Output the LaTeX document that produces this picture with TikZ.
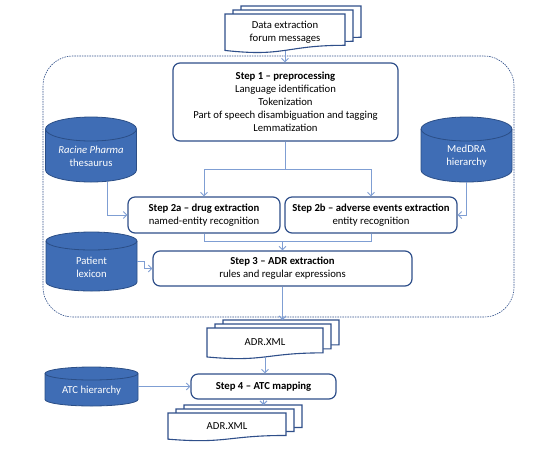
\documentclass[tikz,border=0pt]{standalone}
\usepackage{fontspec}
\setmainfont{Carlito}
\usetikzlibrary{arrows.meta,calc}

\definecolor{boxblue}{HTML}{2F4F8A}
\definecolor{dbfill}{HTML}{3F6DB5}
\definecolor{dbline}{HTML}{2B4E86}
\definecolor{flowblue}{HTML}{7F9ED3}

% one sheet of a document shape: left x, top y, width, height
\newcommand{\docshape}[4]{%
  \filldraw[docline] (#1,#2) -- ({#1+#3},#2) -- ({#1+#3},{#2-0.802*#4})
    .. controls ({#1+0.5*#3},{#2-0.802*#4}) and ({#1+0.5*#3},{#2-1.107*#4}) .. (#1,{#2-0.934*#4}) -- cycle;}
% stack of three sheets with the text on the front one
\newcommand{\multidoc}[6]{%
  \docshape{#2+16}{#3+8}{#4}{#5}
  \docshape{#2+8}{#3+4}{#4}{#5}
  \docshape{#2}{#3}{#4}{#5}
  \coordinate (#1top) at ({#2+#4/2+16},{#3+8});
  \node[doctext, minimum width=#4, minimum height={0.933*#5}] (#1) at ({#2+#4/2},{#3-0.4665*#5}) {#6};}
% database cylinder: name, centre x, centre y, width, height, cap radius, text
\newcommand{\database}[7]{%
  \node[minimum width=#4, minimum height=#5, inner sep=0] (#1) at (#2,#3) {};
  \filldraw[dbshape] ({#2-#4/2},{#3+#5/2-#6}) -- ({#2-#4/2},{#3-#5/2+#6})
    arc[start angle=180, end angle=360, x radius={#4/2}, y radius=#6]
    -- ({#2+#4/2},{#3+#5/2-#6})
    arc[start angle=0, end angle=180, x radius={#4/2}, y radius=#6] -- cycle;
  \draw[dbline, line width=0.8pt] ({#2-#4/2},{#3+#5/2-#6})
    arc[start angle=180, end angle=360, x radius={#4/2}, y radius=#6];
  \node[dbtext] at (#2,{#3-#6/2-1}) {#7};}

\begin{document}
\begin{tikzpicture}[x=1pt,y=1pt,
  txt/.style={font=\fontsize{10.7}{13}\selectfont},
  stepbox/.style={txt, draw=boxblue, line width=1.2pt, rounded corners=7pt, fill=white, align=center, inner sep=0pt},
  docline/.style={draw=boxblue, line width=1.1pt, fill=white},
  doctext/.style={txt, align=center, inner sep=0pt},
  dbshape/.style={fill=dbfill, draw=dbline, line width=0.8pt},
  dbtext/.style={txt, text=white, align=center, inner sep=0pt},
  flow/.style={draw=flowblue, line width=0.9pt, -{Straight Barb[length=3.5pt,width=7pt]}},
  flowline/.style={draw=flowblue, line width=0.9pt}]
\useasboundingbox (0,0) rectangle (556,-451);

% dashed frame round steps 1 to 3
\draw[boxblue, line width=0.6pt, dash pattern=on 1.5pt off 1pt, rounded corners=30pt] (43,-56) rectangle (514,-317);

\multidoc{src}{225}{-14}{120}{39}{Data extraction\\forum messages}

\node[stepbox, minimum width=225, minimum height=78] (step1) at (285.5,-102)
  {\textbf{Step 1 -- preprocessing}\\Language identification\\Tokenization\\Part of speech disambiguation and tagging\\Lemmatization};
\node[stepbox, minimum width=152, minimum height=36] (step2a) at (204,-215)
  {\textbf{Step 2a -- drug extraction}\\named-entity recognition};
\node[stepbox, minimum width=172, minimum height=36] (step2b) at (371,-215)
  {\textbf{Step 2b -- adverse events extraction}\\entity recognition};
\node[stepbox, minimum width=259, minimum height=35] (step3) at (282.5,-268.5)
  {\textbf{Step 3 -- ADR extraction}\\rules and regular expressions};

\database{racine}{91}{-149.5}{91}{65}{12}{\textit{Racine Pharma}\\thesaurus}
\database{meddra}{466.5}{-149.5}{91}{65}{12}{MedDRA\\hierarchy}
\database{patient}{91.5}{-261.5}{91}{59}{9}{Patient\\lexicon}
\database{atc}{91.5}{-386.5}{93}{39}{6.5}{ATC hierarchy}

\multidoc{adr}{207}{-328}{116}{31}{ADR.XML}
\node[stepbox, minimum width=145, minimum height=25] (step4) at (263.5,-386.5)
  {\textbf{Step 4 -- ATC mapping}};
\multidoc{adrout}{168}{-413}{118}{28}{ADR.XML}

\coordinate (split) at ($(step1.south)+(0,-28)$);
\coordinate (merge) at ($(step3.north)+(0,9)$);

\draw[flow] (src.south) -- (src.south |- step1.north);
\draw[flowline] (step1.south) -- (split);
\draw[flow] (split) -| (step2a.north);
\draw[flow] (split) -| (step2b.north);
\draw[flow] ([xshift=16pt]racine.south) |- (step2a.west);
\draw[flow] (meddra.south) |- (step2b.east);
\draw[flowline] (step2a.south) |- (step2b.south |- merge) -- (step2b.south);
\draw[flow] (merge) -- (step3.north);
\draw[flow] (patient.east) -- ++(7,0) |- (step3.west);
\draw[flow] (step3.south) -- (step3.south |- adrtop);
\draw[flow] (adr.south) -- (adr.south |- step4.north);
\draw[flow] (atc.east) -- (step4.west);
\draw[flow] (step4.south) -- (step4.south |- adrouttop);
\end{tikzpicture}
\end{document}
